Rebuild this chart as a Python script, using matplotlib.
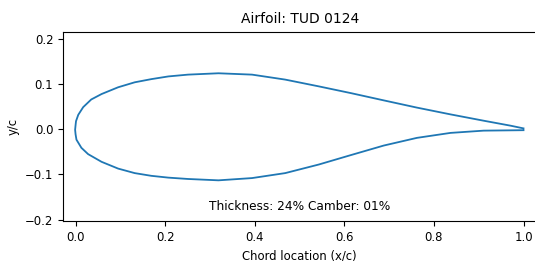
import numpy as np
import matplotlib
matplotlib.use("Agg")
import matplotlib.pyplot as plt

# Coordenadas leidas del perfil TUD 0124
# extrados (borde de salida -> borde de ataque)
x_upper = [1.000, 0.971, 0.911, 0.837, 0.762, 0.688, 0.615, 0.543, 0.468, 0.394,
           0.319, 0.251, 0.207, 0.169, 0.132, 0.095, 0.058, 0.035, 0.017, 0.006,
           0.001, 0.000]
y_upper = [0.002, 0.008, 0.019, 0.033, 0.048, 0.064, 0.080, 0.095, 0.110, 0.121,
           0.124, 0.121, 0.117, 0.111, 0.104, 0.093, 0.078, 0.066, 0.049, 0.032,
           0.018, 0.009]
# intrados (borde de ataque -> borde de salida)
x_lower = [-0.001, 0.000, 0.002, 0.013, 0.028, 0.058, 0.095, 0.132, 0.169, 0.207,
           0.251, 0.319, 0.394, 0.468, 0.543, 0.615, 0.688, 0.762, 0.837, 0.911,
           1.000]
y_lower = [-0.001, -0.011, -0.023, -0.041, -0.055, -0.072, -0.087, -0.097, -0.103, -0.107,
           -0.110, -0.113, -0.108, -0.097, -0.078, -0.057, -0.036, -0.019, -0.008, -0.003,
           -0.002]

nombre = "TUD 0124"
espesor = 24
curvatura = 1

plt.rcParams['font.size'] = 8.4

fig = plt.figure(figsize=(5.35, 2.61), dpi=100)
ax = fig.add_axes([0.1178, 0.1533, 0.885, 0.7252])

x = np.concatenate([x_upper, x_lower])
y = np.concatenate([y_upper, y_lower])
ax.plot(x, y, color='#1f77b4', lw=1.3)

ax.set_xlim(-0.028, 1.029)
ax.set_ylim(-0.203, 0.216)
ax.set_title(f'Airfoil: {nombre}', fontsize=10, pad=6)
ax.set_xlabel('Chord location (x/c)')
ax.set_ylabel('y/c')
ax.text(0.5, -0.171, f'Thickness: {espesor}% Camber: {curvatura:02d}%',
        ha='center', va='center', fontsize=8.7)

fig.savefig('out.png', dpi=100)
